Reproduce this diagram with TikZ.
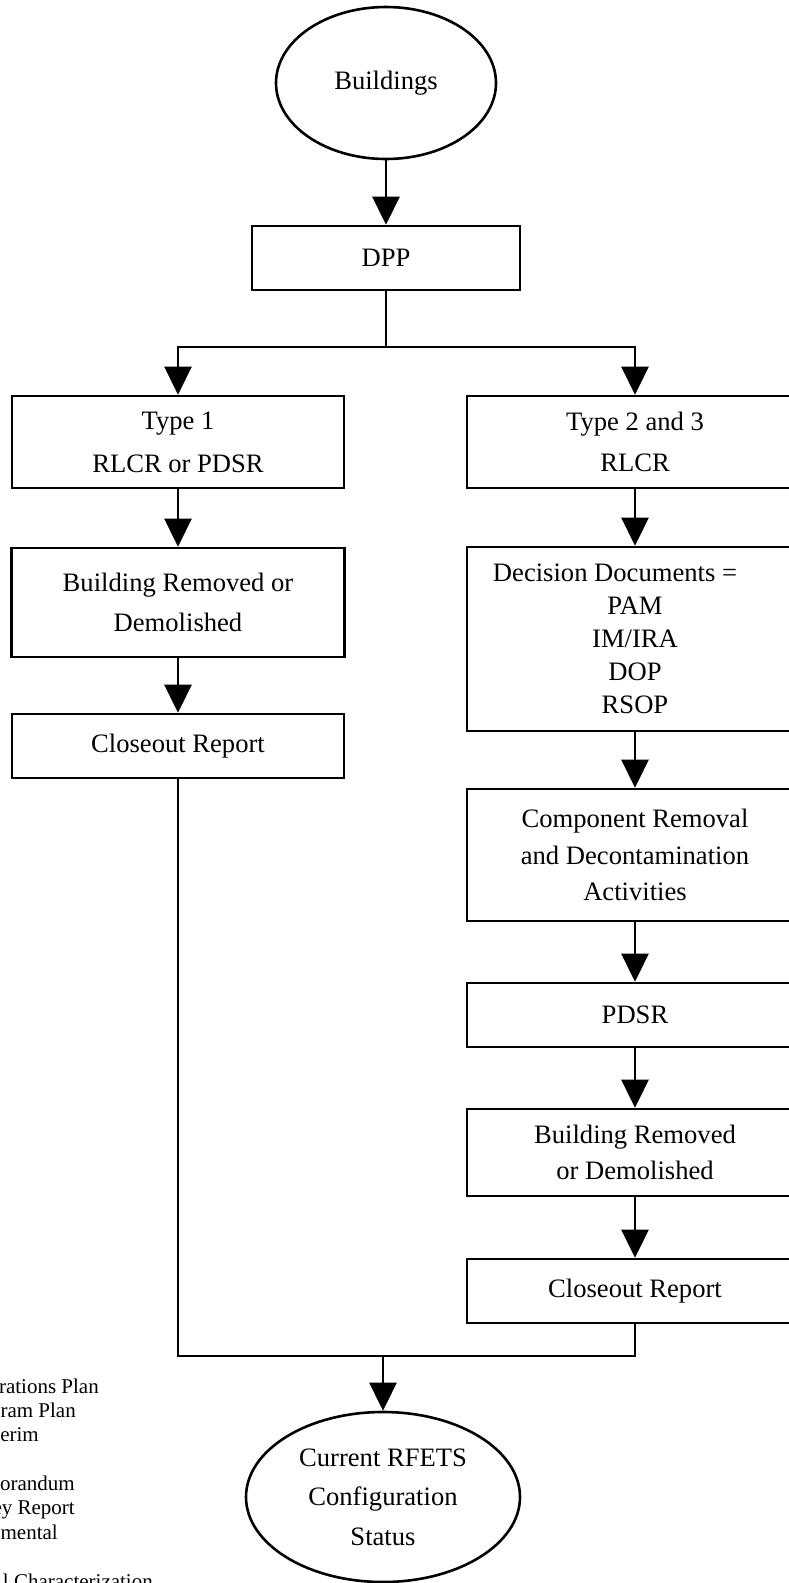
\documentclass[tikz,border=0pt]{standalone}
\usepackage{fontspec}
\setmainfont{Liberation Serif}
\usetikzlibrary{shapes.geometric,arrows.meta}
\newcommand\myfs[1]{\fontsize{26.6pt}{#1pt}\selectfont}
\tikzset{
  boxnode/.style={draw, line width=2.6pt, rectangle, inner sep=0pt, align=center},
  ovalnode/.style={draw, line width=2.6pt, ellipse, inner sep=0pt, align=center},
  conn/.style={line width=2.6pt},
  arr/.style={line width=2.6pt, -{Triangle[length=28pt 0 0,width=27pt 0 0]}},
  legtext/.style={inner sep=0pt, anchor=base east, font=\fontsize{21pt}{24pt}\selectfont}
}
\begin{document}
\begin{tikzpicture}[x=1pt,y=-1pt]
\useasboundingbox (0,0) rectangle (788,1583);
% top
\node[ovalnode, minimum width=220pt, minimum height=152pt, font=\myfs{32}] (bld) at (386,83) {Buildings};
\node[boxnode, minimum width=268pt, minimum height=64pt, font=\myfs{32}] (dpp) at (386,258) {DPP};
% left column
\node[boxnode, minimum width=332pt, minimum height=92pt, font=\myfs{43}] (t1) at (178,442) {Type 1\\RLCR or PDSR};
\node[boxnode, minimum width=333pt, minimum height=109pt, font=\myfs{40}] (br1) at (178,602.5) {Building Removed or\\Demolished};
\node[boxnode, minimum width=332pt, minimum height=64pt, font=\myfs{32}] (c1) at (178,746) {Closeout Report};
% right column
\node[boxnode, minimum width=336pt, minimum height=92pt, font=\myfs{41}] (t23) at (635,442) {Type 2 and 3\\RLCR};
\node[boxnode, minimum width=336pt, minimum height=184pt, font=\myfs{33}] (dd) at (635,639) {Decision Documents =\hspace*{40pt}\\PAM\\IM/IRA\\DOP\\RSOP};
\node[boxnode, minimum width=336pt, minimum height=132pt, font=\myfs{36.5}] (comp) at (635,855) {Component Removal\\and Decontamination\\Activities};
\node[boxnode, minimum width=336pt, minimum height=64pt, font=\myfs{32}] (pdsr) at (635,1015) {PDSR};
\node[boxnode, minimum width=336pt, minimum height=87pt, font=\myfs{36}] (br2) at (635,1152.5) {Building Removed\\or Demolished};
\node[boxnode, minimum width=336pt, minimum height=64pt, font=\myfs{32}] (c2) at (635,1291) {Closeout Report};
% bottom
\node[ovalnode, minimum width=274pt, minimum height=170pt, font=\myfs{39.5}] (cur) at (383,1497) {Current RFETS\\Configuration\\Status};
% connectors
\coordinate (sp) at (386,347);
\coordinate (jn) at (383,1356);
\draw[arr] (bld) -- (dpp);
\draw[conn] (dpp.south) -- (sp);
\draw[arr] (sp) -| (t1.north);
\draw[arr] (sp) -| (t23.north);
\draw[arr] (t1) -- (br1);
\draw[arr] (br1) -- (c1);
\draw[arr] (t23) -- (dd);
\draw[arr] (dd) -- (comp);
\draw[arr] (comp) -- (pdsr);
\draw[arr] (pdsr) -- (br2);
\draw[arr] (br2) -- (c2);
\draw[conn] (c1.south) |- (jn);
\draw[conn] (c2.south) |- (jn);
\draw[arr] (jn) -- (cur.north);
% legend fragments (cut off at the left edge)
\node[legtext] (lg1) at (99,1393) {rations Plan};
\node[legtext] (lg2) at (76,1417) {ram Plan};
\node[legtext] (lg3) at (39,1441) {erim};
\node[legtext] (lg4) at (75,1490) {orandum};
\node[legtext] (lg5) at (75,1514) {ey Report};
\node[legtext] (lg6) at (58,1539) {mental};
\node[legtext] (lg7) at (153,1588) {l Characterization};
\end{tikzpicture}
\end{document}
